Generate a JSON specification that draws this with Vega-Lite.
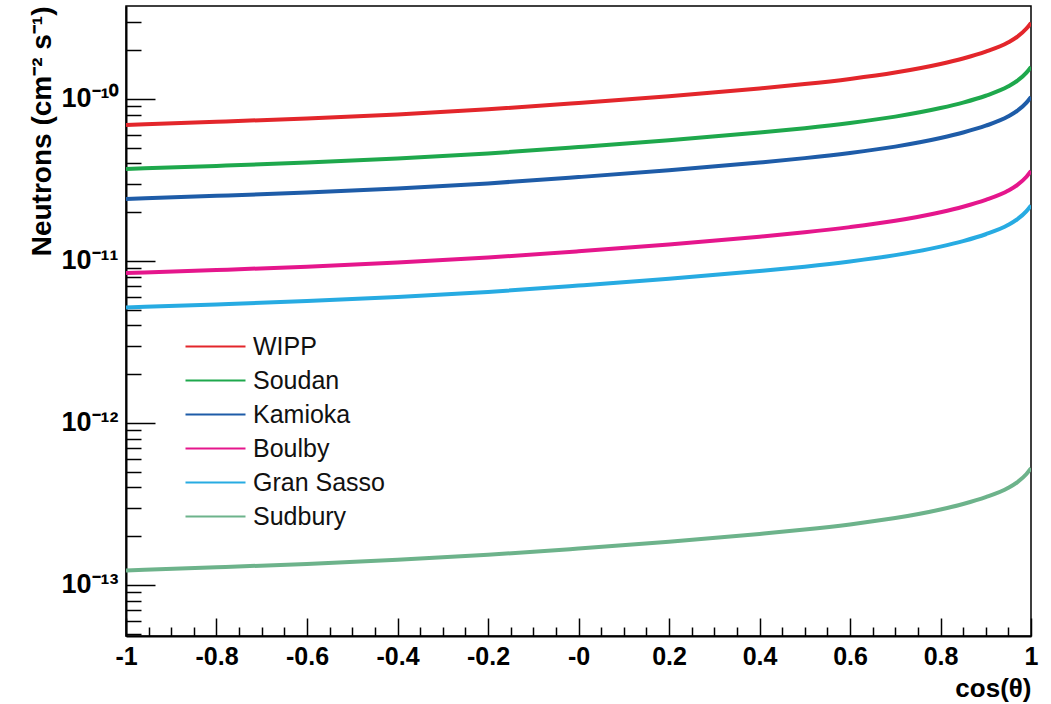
{
  "$schema": "https://vega.github.io/schema/vega-lite/v6.json",
  "width": 905,
  "height": 630,
  "autosize": "none",
  "padding": {"left": 126, "top": 6, "right": 20, "bottom": 68},
  "background": "white",
  "data": {"values": [
    {"site":"WIPP","c":-1,"n":6.918e-11},{"site":"WIPP","c":-0.8,"n":7.227e-11},{"site":"WIPP","c":-0.6,"n":7.586e-11},{"site":"WIPP","c":-0.4,"n":8.034e-11},{"site":"WIPP","c":-0.2,"n":8.630e-11},{"site":"WIPP","c":0,"n":9.440e-11},{"site":"WIPP","c":0.2,"n":1.040e-10},{"site":"WIPP","c":0.4,"n":1.161e-10},{"site":"WIPP","c":0.5,"n":1.236e-10},{"site":"WIPP","c":0.6,"n":1.330e-10},{"site":"WIPP","c":0.7,"n":1.456e-10},{"site":"WIPP","c":0.8,"n":1.644e-10},{"site":"WIPP","c":0.85,"n":1.778e-10},{"site":"WIPP","c":0.9,"n":1.959e-10},{"site":"WIPP","c":0.95,"n":2.239e-10},{"site":"WIPP","c":0.97,"n":2.426e-10},{"site":"WIPP","c":0.99,"n":2.722e-10},{"site":"WIPP","c":1,"n":2.951e-10},
    {"site":"Soudan","c":-1,"n":3.698e-11},{"site":"Soudan","c":-0.8,"n":3.863e-11},{"site":"Soudan","c":-0.6,"n":4.055e-11},{"site":"Soudan","c":-0.4,"n":4.295e-11},{"site":"Soudan","c":-0.2,"n":4.613e-11},{"site":"Soudan","c":0,"n":5.046e-11},{"site":"Soudan","c":0.2,"n":5.558e-11},{"site":"Soudan","c":0.4,"n":6.208e-11},{"site":"Soudan","c":0.5,"n":6.607e-11},{"site":"Soudan","c":0.6,"n":7.112e-11},{"site":"Soudan","c":0.7,"n":7.781e-11},{"site":"Soudan","c":0.8,"n":8.790e-11},{"site":"Soudan","c":0.85,"n":9.504e-11},{"site":"Soudan","c":0.9,"n":1.047e-10},{"site":"Soudan","c":0.95,"n":1.197e-10},{"site":"Soudan","c":0.97,"n":1.297e-10},{"site":"Soudan","c":0.99,"n":1.455e-10},{"site":"Soudan","c":1,"n":1.578e-10},
    {"site":"Kamioka","c":-1,"n":2.415e-11},{"site":"Kamioka","c":-0.8,"n":2.523e-11},{"site":"Kamioka","c":-0.6,"n":2.648e-11},{"site":"Kamioka","c":-0.4,"n":2.805e-11},{"site":"Kamioka","c":-0.2,"n":3.012e-11},{"site":"Kamioka","c":0,"n":3.295e-11},{"site":"Kamioka","c":0.2,"n":3.630e-11},{"site":"Kamioka","c":0.4,"n":4.054e-11},{"site":"Kamioka","c":0.5,"n":4.314e-11},{"site":"Kamioka","c":0.6,"n":4.644e-11},{"site":"Kamioka","c":0.7,"n":5.081e-11},{"site":"Kamioka","c":0.8,"n":5.740e-11},{"site":"Kamioka","c":0.85,"n":6.207e-11},{"site":"Kamioka","c":0.9,"n":6.837e-11},{"site":"Kamioka","c":0.95,"n":7.815e-11},{"site":"Kamioka","c":0.97,"n":8.469e-11},{"site":"Kamioka","c":0.99,"n":9.503e-11},{"site":"Kamioka","c":1,"n":1.030e-10},
    {"site":"Boulby","c":-1,"n":8.414e-12},{"site":"Boulby","c":-0.8,"n":8.790e-12},{"site":"Boulby","c":-0.6,"n":9.226e-12},{"site":"Boulby","c":-0.4,"n":9.772e-12},{"site":"Boulby","c":-0.2,"n":1.050e-11},{"site":"Boulby","c":0,"n":1.148e-11},{"site":"Boulby","c":0.2,"n":1.265e-11},{"site":"Boulby","c":0.4,"n":1.413e-11},{"site":"Boulby","c":0.5,"n":1.503e-11},{"site":"Boulby","c":0.6,"n":1.618e-11},{"site":"Boulby","c":0.7,"n":1.770e-11},{"site":"Boulby","c":0.8,"n":2.000e-11},{"site":"Boulby","c":0.85,"n":2.162e-11},{"site":"Boulby","c":0.9,"n":2.382e-11},{"site":"Boulby","c":0.95,"n":2.723e-11},{"site":"Boulby","c":0.97,"n":2.951e-11},{"site":"Boulby","c":0.99,"n":3.311e-11},{"site":"Boulby","c":1,"n":3.589e-11},
    {"site":"Gran Sasso","c":-1,"n":5.164e-12},{"site":"Gran Sasso","c":-0.8,"n":5.395e-12},{"site":"Gran Sasso","c":-0.6,"n":5.662e-12},{"site":"Gran Sasso","c":-0.4,"n":5.997e-12},{"site":"Gran Sasso","c":-0.2,"n":6.442e-12},{"site":"Gran Sasso","c":0,"n":7.047e-12},{"site":"Gran Sasso","c":0.2,"n":7.762e-12},{"site":"Gran Sasso","c":0.4,"n":8.669e-12},{"site":"Gran Sasso","c":0.5,"n":9.226e-12},{"site":"Gran Sasso","c":0.6,"n":9.931e-12},{"site":"Gran Sasso","c":0.7,"n":1.087e-11},{"site":"Gran Sasso","c":0.8,"n":1.227e-11},{"site":"Gran Sasso","c":0.85,"n":1.327e-11},{"site":"Gran Sasso","c":0.9,"n":1.462e-11},{"site":"Gran Sasso","c":0.95,"n":1.671e-11},{"site":"Gran Sasso","c":0.97,"n":1.811e-11},{"site":"Gran Sasso","c":0.99,"n":2.032e-11},{"site":"Gran Sasso","c":1,"n":2.203e-11},
    {"site":"Sudbury","c":-1,"n":1.230e-13},{"site":"Sudbury","c":-0.8,"n":1.285e-13},{"site":"Sudbury","c":-0.6,"n":1.349e-13},{"site":"Sudbury","c":-0.4,"n":1.429e-13},{"site":"Sudbury","c":-0.2,"n":1.534e-13},{"site":"Sudbury","c":0,"n":1.678e-13},{"site":"Sudbury","c":0.2,"n":1.849e-13},{"site":"Sudbury","c":0.4,"n":2.065e-13},{"site":"Sudbury","c":0.5,"n":2.197e-13},{"site":"Sudbury","c":0.6,"n":2.365e-13},{"site":"Sudbury","c":0.7,"n":2.588e-13},{"site":"Sudbury","c":0.8,"n":2.924e-13},{"site":"Sudbury","c":0.85,"n":3.161e-13},{"site":"Sudbury","c":0.9,"n":3.482e-13},{"site":"Sudbury","c":0.95,"n":3.980e-13},{"site":"Sudbury","c":0.97,"n":4.314e-13},{"site":"Sudbury","c":0.99,"n":4.840e-13},{"site":"Sudbury","c":1,"n":5.247e-13}
  ]},
  "layer": [
    {
      "mark": {"type": "line", "strokeWidth": 4, "interpolate": "monotone", "clip": true},
      "encoding": {
        "x": {"field": "c", "type": "quantitative",
          "scale": {"domain": [-1, 1], "nice": false, "zero": false},
          "axis": {"values": [-1, -0.8, -0.6, -0.4, -0.2, 0, 0.2, 0.4, 0.6, 0.8, 1],
            "labelExpr": "datum.value == 0 ? '-0' : (datum.value < 0 ? '-' : '') + format(abs(datum.value), '.1~f')",
            "tickSize": -18, "labelPadding": 26, "labelFontSize": 25, "labelFontWeight": "bold",
            "labelBaseline": "top", "labelOverlap": false, "labelFlush": false,
            "title": "cos(θ)", "titleX": 905, "titleY": 52, "titleAlign": "right", "titleBaseline": "middle",
            "titleFontSize": 26, "titleFontWeight": "bold"}},
        "y": {"field": "n", "type": "quantitative",
          "scale": {"type": "log", "domain": [4.84e-14, 3.75e-10], "nice": false, "zero": false},
          "axis": {"values": [1e-13, 1e-12, 1e-11, 1e-10],
            "labelExpr": "datum.value < 3e-13 ? '10⁻¹³' : datum.value < 3e-12 ? '10⁻¹²' : datum.value < 3e-11 ? '10⁻¹¹' : '10⁻¹⁰'",
            "tickSize": -29, "labelPadding": 37, "labelFontSize": 27, "labelFontWeight": "bold",
            "labelBaseline": "middle", "labelOverlap": false,
            "title": "Neutrons (cm⁻² s⁻¹)", "titleX": -84, "titleY": 0, "titleAngle": -90,
            "titleAlign": "right", "titleBaseline": "middle", "titleFontSize": 28, "titleFontWeight": "bold"}},
        "color": {"field": "site", "type": "nominal",
          "scale": {"domain": ["WIPP", "Soudan", "Kamioka", "Boulby", "Gran Sasso", "Sudbury"],
                    "range": ["#e3262b", "#1ea84c", "#1e5ca8", "#e5168c", "#27abe2", "#6db38b"]},
          "legend": {"orient": "none", "legendX": 77, "legendY": 328, "title": null, "padding": 0,
            "symbolType": "M-4,0H4", "symbolSize": 225, "symbolStrokeWidth": 2,
            "labelOffset": 25, "rowPadding": 8, "labelFontSize": 25, "labelColor": "#111"}}
      }
    },
    {
      "mark": {"type": "line", "strokeOpacity": 0},
      "encoding": {
        "x": {"field": "c", "type": "quantitative",
          "axis": {"orient": "bottom", "values": [-0.95,-0.9,-0.85,-0.75,-0.7,-0.65,-0.55,-0.5,-0.45,-0.35,-0.3,-0.25,-0.15,-0.1,-0.05,0.05,0.1,0.15,0.25,0.3,0.35,0.45,0.5,0.55,0.65,0.7,0.75,0.85,0.9,0.95],
            "labels": false, "domain": false, "tickSize": -9, "title": null, "grid": false}},
        "y": {"field": "n", "type": "quantitative",
          "axis": {"orient": "left", "values": [5e-14,6e-14,7e-14,8e-14,9e-14,2e-13,3e-13,4e-13,5e-13,6e-13,7e-13,8e-13,9e-13,2e-12,3e-12,4e-12,5e-12,6e-12,7e-12,8e-12,9e-12,2e-11,3e-11,4e-11,5e-11,6e-11,7e-11,8e-11,9e-11,2e-10,3e-10],
            "labels": false, "domain": false, "tickSize": -15, "title": null, "grid": false}}
      }
    }
  ],
  "resolve": {"axis": {"x": "independent", "y": "independent"}},
  "config": {
    "font": "Liberation Sans",
    "view": {"stroke": "black", "strokeWidth": 1.5},
    "axis": {"domainColor": "black", "domainWidth": 2, "tickColor": "black", "tickWidth": 1.5,
             "labelColor": "black", "titleColor": "black", "grid": false}
  }
}
